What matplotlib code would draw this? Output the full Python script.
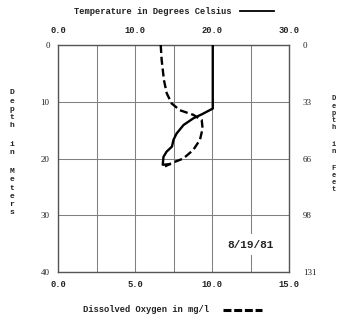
import numpy as np
import matplotlib
matplotlib.use("Agg")
from matplotlib import pyplot as plt
from matplotlib.lines import Line2D

# profile, 8/19/81
temp_c = [20.1, 20.1, 18.7, 17.6, 16.3, 15.4, 15.0, 14.8, 14.1, 13.7, 13.6, 14.5]
temp_depth = [0, 11.2, 12.2, 12.9, 14.1, 15.6, 16.7, 17.9, 18.8, 19.7, 21.1, 21.0]
do_mg = [6.67, 6.73, 6.88, 7.06, 7.38, 7.92, 8.78, 9.33, 9.39, 9.22, 8.78, 8.14, 7.38, 6.95]
do_depth = [0, 2.6, 6.2, 8.5, 10.3, 11.5, 12.3, 13.2, 14.7, 16.7, 18.5, 20.0, 20.8, 21.4]

do_ticks = [0, 2.5, 5, 7.5, 10, 12.5, 15]
do_labels = ['0.0', '', '5.0', '', '10.0', '', '15.0']
temp_ticks = [0, 5, 10, 15, 20, 25, 30]
temp_labels = ['0.0', '', '10.0', '', '20.0', '', '30.0']
depth_m = [0, 10, 20, 30, 40]
depth_ft = ['0', '33', '66', '98', '131']

W, H = 339, 321
mono = dict(family='Liberation Mono', weight='bold', size=6.3, color='#222222')
serif = dict(family='Liberation Serif', size=6.5, color='#222222')

fig = plt.figure(figsize=(W / 100, H / 100), dpi=100)
ax = fig.add_axes([58 / W, (H - 272) / H, 231 / W, 227 / H])

# dissolved oxygen on bottom axis
ax.set_xlim(0, 15)
ax.set_ylim(40, 0)
ax.set_xticks(do_ticks)
ax.set_xticklabels(do_labels, **mono)
ax.set_yticks(depth_m)
ax.set_yticklabels(depth_m, **serif)
ax.tick_params(length=0, pad=6)
ax.grid(True, color='#808080', lw=0.75)
for s in ax.spines.values():
    s.set_color('#555555')
    s.set_linewidth(1.0)

# temperature on top axis
ax_t = ax.twiny()
ax_t.set_xlim(0, 30)
ax_t.set_xticks(temp_ticks)
ax_t.set_xticklabels(temp_labels, **mono)
ax_t.tick_params(length=0, pad=7)
for s in ax_t.spines.values():
    s.set_visible(False)

# depth in feet on right
ax_f = ax.twinx()
ax_f.set_ylim(40, 0)
ax_f.set_yticks(depth_m)
ax_f.set_yticklabels(depth_ft, **serif)
ax_f.tick_params(length=0, pad=10)
for s in ax_f.spines.values():
    s.set_visible(False)

ax_t.plot(temp_c, temp_depth, color='black', lw=1.7, solid_joinstyle='round', zorder=5)
l, = ax.plot(do_mg, do_depth, color='black', lw=1.7, zorder=5)
l.set_dashes([3.4, 1.6])

ax.text(12.5, 35.2, '8/19/81', ha='center', va='center', family='Liberation Mono',
        weight='bold', size=8, color='#222222', zorder=4,
        bbox=dict(facecolor='white', edgecolor='none', pad=4))

# titles and legend swatches
fig.text(153 / W, 1 - 11 / H, 'Temperature in Degrees Celsius', ha='center', va='center', **mono)
fig.add_artist(Line2D([240 / W, 274 / W], [1 - 11 / H, 1 - 11 / H], color='black', lw=1.3))
fig.text(146 / W, 1 - 310 / H, 'Dissolved Oxygen in mg/l', ha='center', va='center', **mono)
sw = Line2D([223 / W, 262 / W], [1 - 310 / H, 1 - 310 / H], color='black', lw=2.2)
sw.set_dashes([2.6, 0.9])
fig.add_artist(sw)

# stacked axis titles
def stacked(word, x, y0, step, size):
    y = y0
    st = dict(mono, size=size)
    for ch in word:
        if ch != ' ':
            fig.text(x / W, 1 - y / H, ch, ha='center', va='center', **st)
            y += step
        else:
            y += step * 1.3

stacked('Depth in Meters', 12, 93, 8.2, 5.8)
stacked('Depth in Feet', 334, 99, 7.2, 5.0)

fig.savefig('out.png', dpi=100)
